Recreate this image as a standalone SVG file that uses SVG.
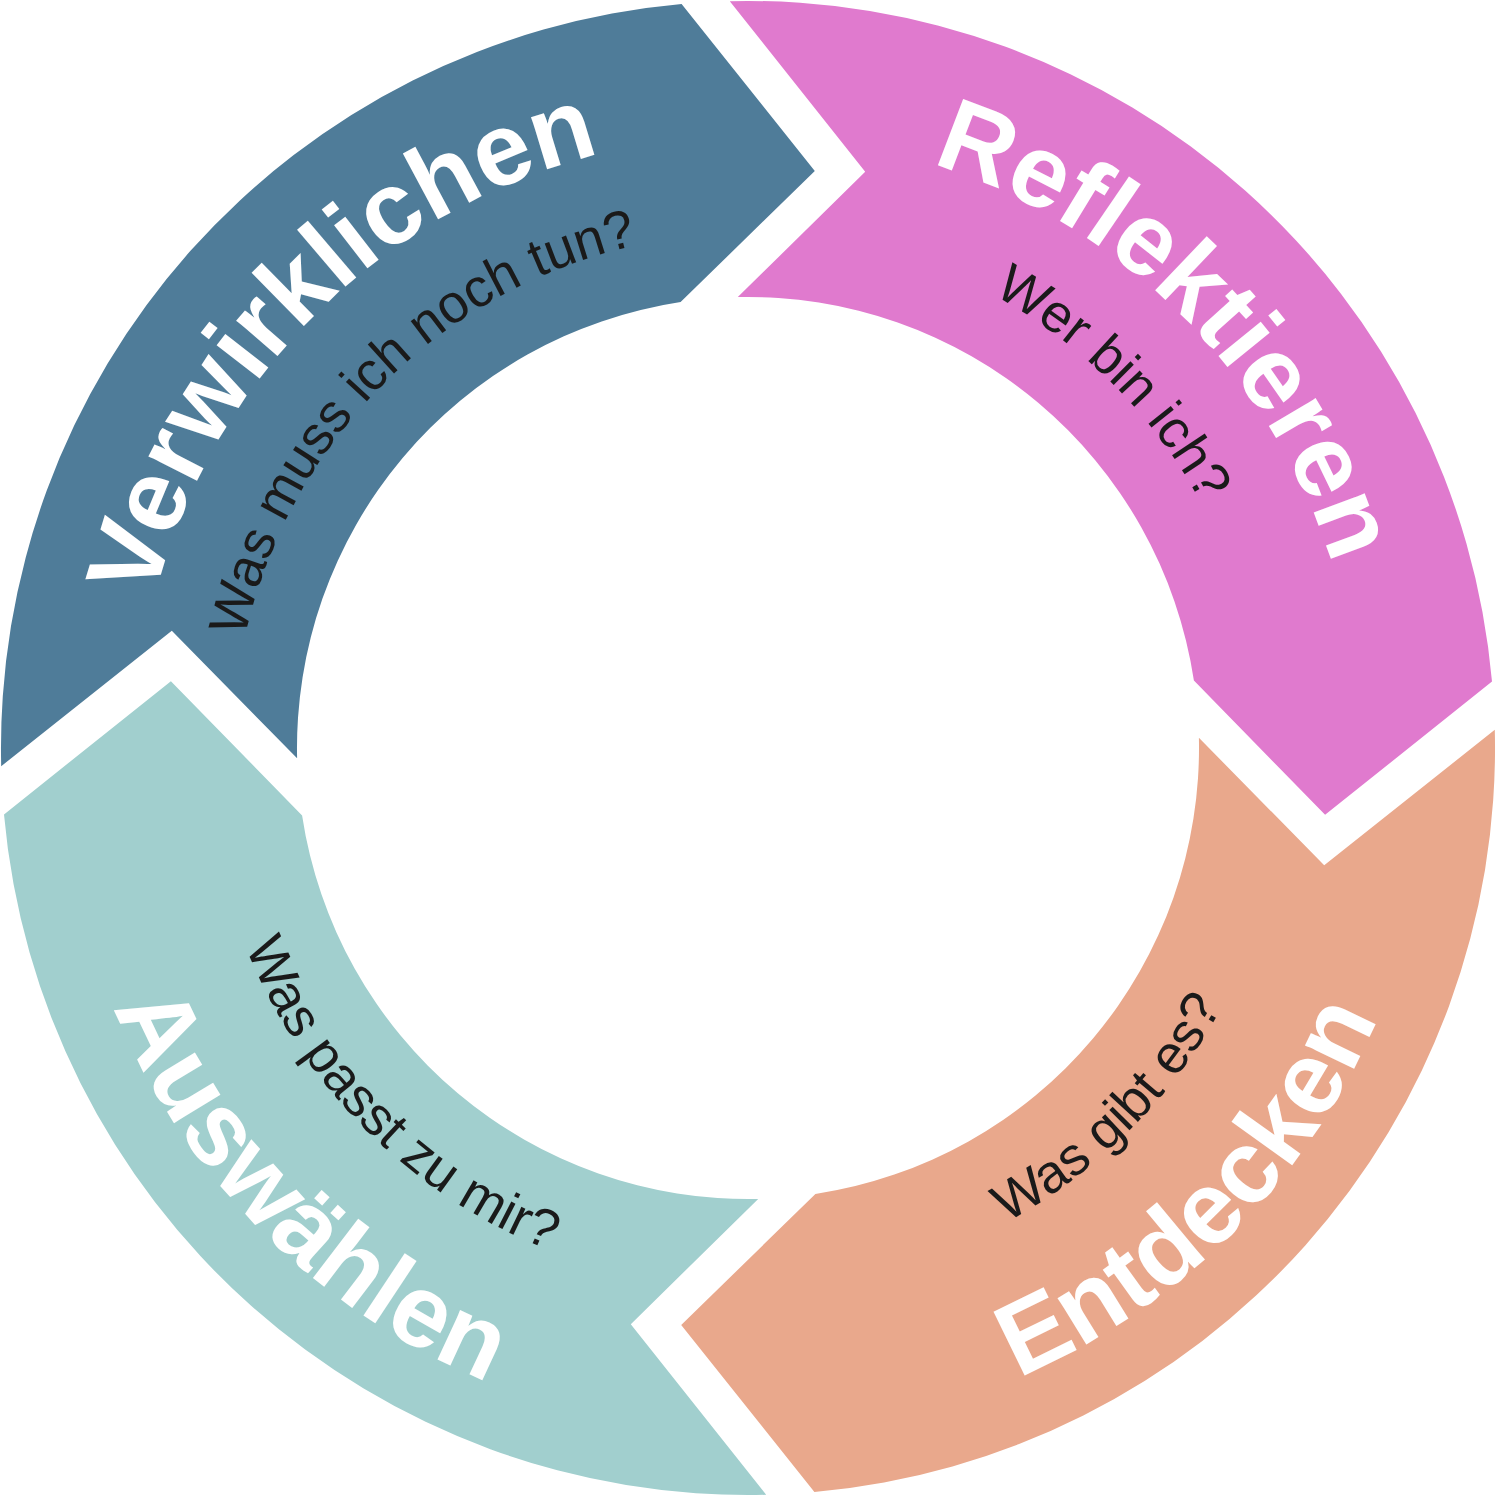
<svg xmlns="http://www.w3.org/2000/svg" xmlns:xlink="http://www.w3.org/1999/xlink" width="1497" height="1497" viewBox="0 0 1497 1497">
<style>
.t{font-family:"Liberation Sans",Arial,sans-serif;font-weight:bold;font-size:103px;fill:#fff}
.s{font-family:"Liberation Sans",Arial,sans-serif;font-size:54px;fill:#1a1a1a}
</style>
<defs>
<path id="seg" d="M729.8,1.2 A747,747 0 0 1 1492,681.6 L1325.1,814.8 L1193.9,680.6 A451,451 0 0 0 737.8,297.1 L865.2,171.8 Z"/>
<path id="tTop" d="M397,246.6 A612,612 0 0 1 1249.4,1099"/>
<path id="sTop" d="M452.6,326.1 A515,515 0 0 1 1169.9,1043.4"/>
<path id="tBot" d="M355.1,1309.2 A685,685 0 0 0 1309.2,355.1"/>
<path id="sBot" d="M438.3,1190.4 A540,540 0 0 0 1190.4,438.3"/>
</defs>
<rect width="1497" height="1497" fill="#fff"/>
<g id="connectors"/>
<g id="reflektieren">
<use xlink:href="#seg" fill="#E07ACE"/>
<text class="t"><textPath xlink:href="#tTop" startOffset="50%" text-anchor="middle">Reflektieren</textPath></text>
<text class="s"><textPath xlink:href="#sTop" startOffset="50%" text-anchor="middle">Wer bin ich?</textPath></text>
</g>
<g id="entdecken">
<use xlink:href="#seg" fill="#E9A88C" transform="rotate(90 748 748)"/>
<text class="t"><textPath xlink:href="#tBot" startOffset="50%" text-anchor="middle">Entdecken</textPath></text>
<text class="s"><textPath xlink:href="#sBot" startOffset="50%" text-anchor="middle">Was gibt es?</textPath></text>
</g>
<g id="auswaehlen">
<use xlink:href="#seg" fill="#A1CFCE" transform="rotate(180 748 748)"/>
<g transform="rotate(90 748 748)">
<text class="t"><textPath xlink:href="#tBot" startOffset="50%" text-anchor="middle">Auswählen</textPath></text>
<text class="s"><textPath xlink:href="#sBot" startOffset="50%" text-anchor="middle">Was passt zu mir?</textPath></text>
</g>
</g>
<g id="verwirklichen">
<use xlink:href="#seg" fill="#4F7C99" transform="rotate(270 748 748)"/>
<g transform="rotate(-90 748 748)">
<text class="t"><textPath xlink:href="#tTop" startOffset="50%" text-anchor="middle">Verwirklichen</textPath></text>
<text class="s"><textPath xlink:href="#sTop" startOffset="50%" text-anchor="middle">Was muss ich noch tun?</textPath></text>
</g>
</g>
</svg>
